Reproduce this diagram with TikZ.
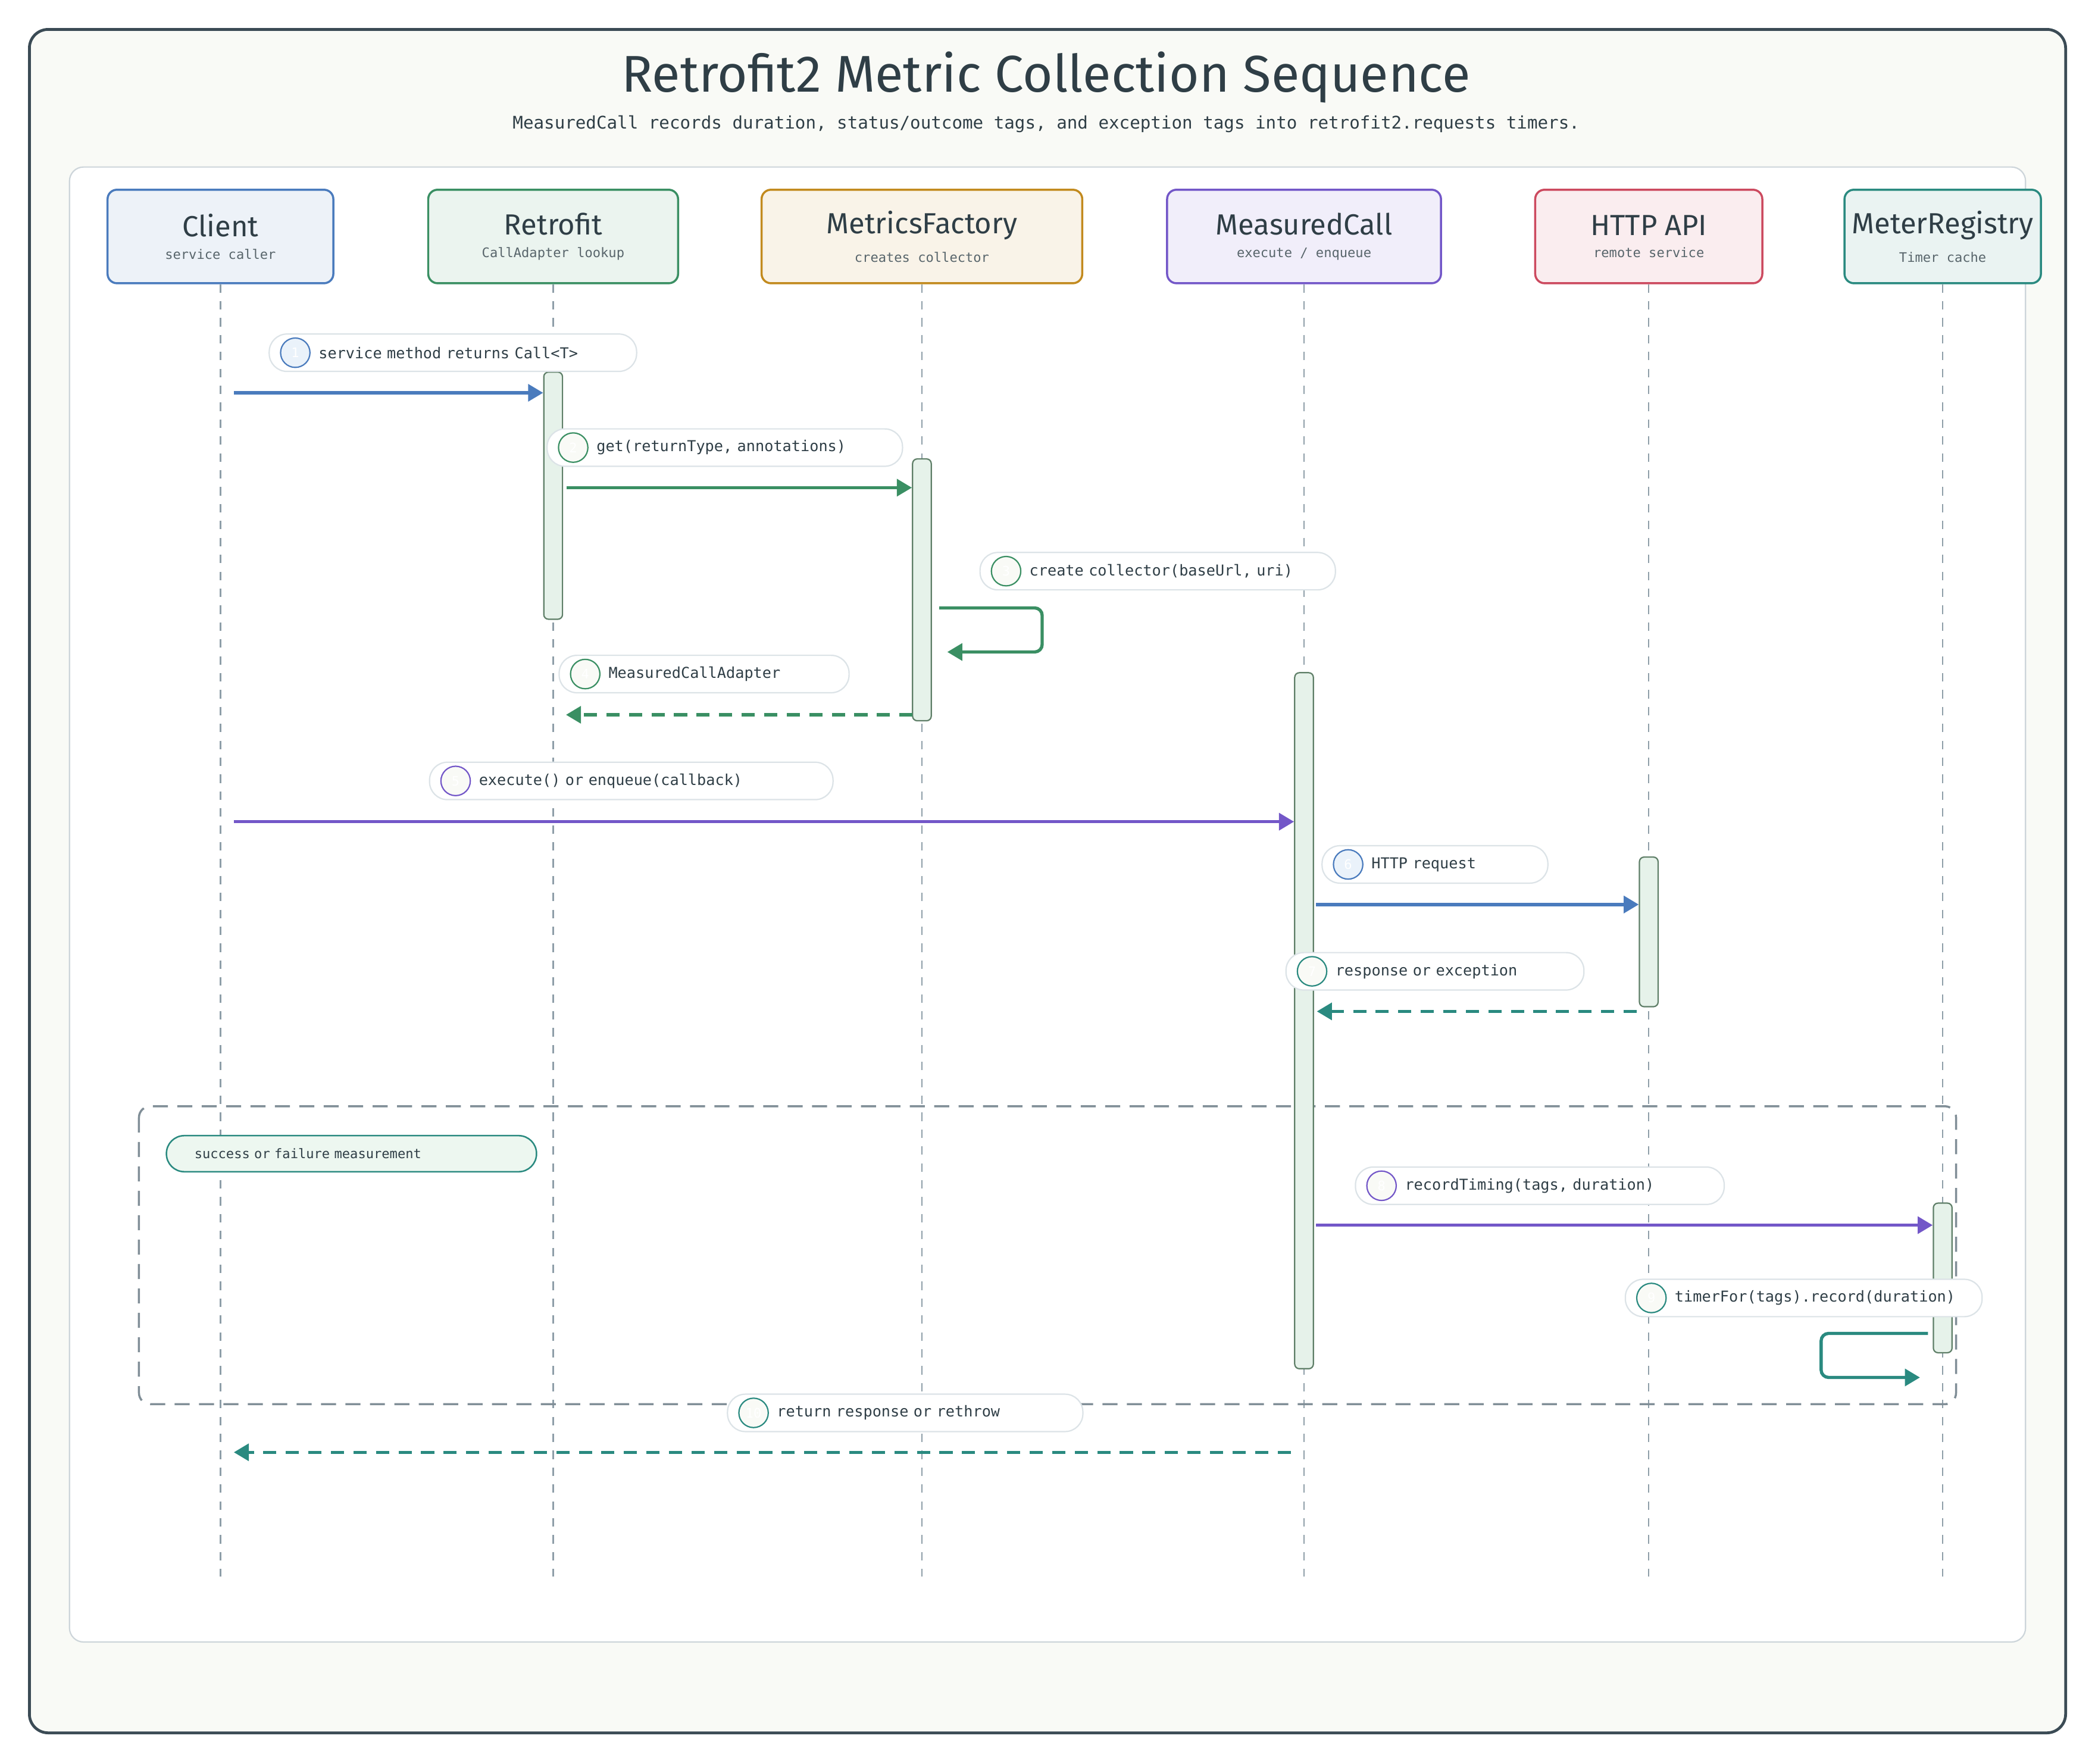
\documentclass[tikz,border=0pt]{standalone}
\usepackage{fontspec}
\setmainfont{Fira Sans}
\setmonofont{DejaVu Sans Mono}
\usetikzlibrary{arrows.meta,positioning}
\definecolor{ink}{HTML}{2F3E46}
\definecolor{frm}{HTML}{3B4B55}
\definecolor{bg}{HTML}{F9FAF6}
\definecolor{life}{HTML}{8E9EA8}
\definecolor{pill}{HTML}{DCE3E7}
\definecolor{cblue}{HTML}{4A7BBD}\definecolor{fblue}{HTML}{EAF2FA}
\definecolor{cgreen}{HTML}{3A8F63}\definecolor{fgreen}{HTML}{EDF7F0}
\definecolor{corange}{HTML}{C28A1E}
\definecolor{cpurple}{HTML}{7357C8}
\definecolor{cred}{HTML}{CC4A5F}
\definecolor{cteal}{HTML}{2A8A80}
\definecolor{actline}{HTML}{5F7F68}
\definecolor{actfill}{HTML}{E6F2EA}
\tikzset{
actor/.style={draw=#1,fill=#1!10,line width=2.2pt,rounded corners=10pt,minimum height=3.5cm,align=center,text=ink},
act/.style={draw=actline,fill=actfill,line width=1.4pt,rounded corners=5pt,minimum width=0.7cm,inner sep=0pt},
lifeline/.style={life,line width=1.4pt,dash pattern=on 9pt off 9pt},
msg/.style={#1,line width=3.4pt,-{Triangle[length=16pt,width=18pt]}},
ret/.style={msg=#1,dash pattern=on 14pt off 10pt},
lbl/.style={draw=pill,fill=white,line width=1.4pt,rounded corners=19pt,minimum height=1.4cm,text=ink,font=\ttfamily\fontsize{16}{18}\selectfont},
num/.style={circle,draw=#1,fill=white,line width=1.4pt,minimum size=1.1cm,inner sep=0pt,text=white,font=\ttfamily\fontsize{14}{16}\selectfont},
}
\newcommand{\actorbox}[6]{\node[actor=#4,minimum width=#5] (#1) at (#2,177) {\fontsize{31}{33}\selectfont #3\\[12pt]\ttfamily\fontsize{14}{16}\selectfont\color{ink!80} #6};}
\newcommand{\msglabel}[5]{\node[lbl,anchor=west,text width=#4,inner xsep=0pt] (#1) at (#2,#3) {\hspace*{1.85cm}#5};
\node[num=\numcol,fill=\numfill] at ([xshift=1cm]#1.west) {\numtxt};}
\def\numcol{cblue}\def\numfill{white}\def\numtxt{}
\begin{document}
\begin{tikzpicture}[x=0.05cm,y=-0.05cm]
\useasboundingbox (0,0) rectangle (1568,1320);
\draw[frm,fill=bg,line width=3pt,rounded corners=20pt] (22,22) rectangle (1546,1297);
\draw[pill!80!life,fill=white,line width=1.4pt,rounded corners=15pt] (52,125) rectangle (1516,1229);
\node[text=ink,font=\fontsize{55}{60}\selectfont] (title) at (783,58) {Retrofit2 Metric Collection Sequence};
\node[text=ink,font=\ttfamily\fontsize{18.5}{20}\selectfont] (sub) at (783,93) {MeasuredCall records duration, status/outcome tags, and exception tags into retrofit2.requests timers.};
% actors
\actorbox{cl}{165}{Client}{cblue}{8.45cm}{service caller}
\actorbox{rf}{414}{Retrofit}{cgreen}{9.35cm}{CallAdapter lookup}
\actorbox{mf}{690}{MetricsFactory}{corange}{12cm}{creates collector}
\actorbox{mc}{976}{MeasuredCall}{cpurple}{10.25cm}{execute / enqueue}
\actorbox{ha}{1234}{HTTP API}{cred}{8.5cm}{remote service}
\actorbox{mr}{1454}{MeterRegistry}{cteal}{7.35cm}{Timer cache}
\foreach \a in {cl,rf,mf,mc,ha,mr}
  \draw[lifeline] (\a.south) -- (\a.south |- 0,1180);
% group frame
\draw[life!90!black,line width=2.2pt,dash pattern=on 16pt off 10pt,rounded corners=12pt] (104,828) rectangle (1464,1051);
\node[draw=cteal,fill=fgreen,line width=1.6pt,rounded corners=19pt,text width=13.85cm,inner xsep=0pt,minimum height=1.35cm,text=ink,font=\ttfamily\fontsize{14}{16}\selectfont,anchor=west] (grp) at (124,863.5) {\hspace*{1.05cm}success or failure measurement};
% activations
\node[act,minimum height=9.25cm,anchor=north] (a1) at (414,278) {};
\node[act,minimum height=9.8cm,anchor=north] (a2) at (690,343) {};
\node[act,minimum height=26.05cm,anchor=north] (a3) at (976,503) {};
\node[act,minimum height=5.6cm,anchor=north] (a4) at (1234,641) {};
\node[act,minimum height=5.6cm,anchor=north] (a5) at (1454,900) {};
% messages
\def\numfill{fblue}\def\numtxt{1}
\msglabel{l1}{201}{264}{13.75cm}{service method returns Call<T>}
\coordinate (m1) at (175,294);
\draw[msg=cblue] (m1) -- (a1.west |- m1);
\def\numcol{cgreen}\def\numfill{bg}\def\numtxt{2}
\msglabel{l2}{409}{335}{13.3cm}{get(returnType, annotations)}
\coordinate (m2) at (424,365);
\draw[msg=cgreen] (m2) -- (a2.west |- m2);
\def\numtxt{3}
\msglabel{l3}{733}{427.5}{13.3cm}{create collector(baseUrl, uri)}
\coordinate (m3) at (703,455);
\draw[msg=cgreen,rounded corners=8pt] (m3) -- ++(77,0) -- ++(0,33) -- ++(-71,0);
\def\numtxt{4}
\msglabel{l4}{418}{504.5}{10.85cm}{MeasuredCallAdapter}
\coordinate (m4) at (683,535);
\draw[ret=cgreen] (m4) -- ([xshift=3pt]a1.east |- m4);
\def\numcol{cpurple}\def\numtxt{5}
\msglabel{l5}{321}{584.5}{15.1cm}{execute() or enqueue(callback)}
\coordinate (m5) at (175,615);
\draw[msg=cpurple] (m5) -- (a3.west |- m5);
\def\numcol{cblue}\def\numfill{fblue}\def\numtxt{6}
\msglabel{l6}{989}{647}{8.45cm}{HTTP request}
\coordinate (m6) at (985,677);
\draw[msg=cblue] (m6) -- (a4.west |- m6);
\def\numcol{cteal}\def\numfill{bg}\def\numtxt{7}
\msglabel{l7}{962}{727}{11.15cm}{response or exception}
\coordinate (m7) at (1225,757);
\draw[ret=cteal] (m7) -- ([xshift=3pt]a3.east |- m7);
\def\numcol{cpurple}\def\numtxt{8}
\msglabel{l8}{1014}{887.5}{13.8cm}{recordTiming(tags, duration)}
\coordinate (m8) at (985,917);
\draw[msg=cpurple] (m8) -- (a5.west |- m8);
\def\numcol{cteal}\def\numtxt{9}
\msglabel{l9}{1216}{971.5}{13.35cm}{timerFor(tags).record(duration)}
\coordinate (m9) at (1443,998);
\draw[msg=cteal,rounded corners=8pt] (m9) -- ++(-80,0) -- ++(0,33) -- ++(74,0);
\def\numtxt{10}
\msglabel{l10}{544}{1057.5}{13.3cm}{return response or rethrow}
\coordinate (m10) at (966,1087);
\draw[ret=cteal] (m10) -- ([xshift=0.5cm]cl.south |- m10);
\end{tikzpicture}
\end{document}
